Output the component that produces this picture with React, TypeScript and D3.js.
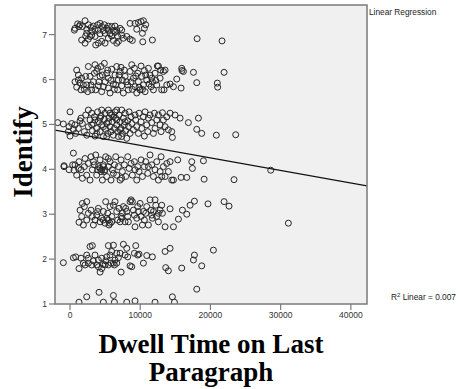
import React from "react";
import * as d3 from "d3";

// Dwell time on last paragraph (ms) vs. Identify rating (jittered), grouped by rating
const identify7: [number, number][] = [
  [620, 7.1], [1090, 7.24], [1280, 7.18], [2140, 7.31], [1760, 7.18], [2380, 7.12], [2610, 7.22], [2990, 7.16],
  [3330, 7.19], [3560, 7.12], [3940, 7.22], [4280, 7.25], [4510, 7.18], [4890, 7.22], [5230, 7.14], [5460, 7.19],
  [5940, 7.18], [6410, 7.19], [6650, 7.1], [7130, 7.14], [7360, 7.1], [8550, 7.25], [9260, 7.25], [9740, 7.27],
  [10120, 7.29], [10450, 7.31], [10780, 7.22], [10590, 7.14], [9500, 7.12], [10310, 7.03], [1660, 6.88], [2140, 6.81],
  [2850, 6.96], [3090, 6.99], [3660, 6.77], [4040, 6.81], [4510, 6.85], [4990, 6.81], [5460, 6.92], [5940, 6.97],
  [6180, 6.87], [6650, 6.81], [6890, 6.85], [7600, 6.92], [8080, 6.96], [8550, 6.9], [8880, 6.87], [10360, 6.84],
  [11730, 6.88], [3560, 6.96], [4280, 7.02], [4990, 7.03], [5700, 7.02], [6410, 7.05], [6790, 6.96], [7360, 6.99],
  [2230, 6.97], [2610, 6.9], [710, 7.14], [1430, 7.22], [4040, 7.1], [4750, 7.09], [5460, 7.1], [6180, 7.09],
  [3090, 7.07], [2380, 7.03], [18100, 6.91], [21650, 6.86],
];

const identify6: [number, number][] = [
  [950, 6.21], [1190, 6.1], [710, 5.95], [950, 5.83], [1430, 5.92], [1660, 6.03], [2040, 5.78], [2380, 5.88],
  [2610, 6.29], [2850, 6.07], [3090, 5.77], [3330, 5.95], [3800, 6.18], [3940, 6.25], [4040, 5.86], [4280, 6.07],
  [4510, 5.73], [4890, 6.36], [4990, 5.95], [5230, 6.14], [5460, 6.03], [5460, 5.81], [5700, 5.7], [5940, 6.23],
  [6180, 5.9], [6410, 6.1], [6650, 6.29], [6790, 5.77], [6890, 5.99], [7130, 6.18], [7270, 6.27], [7360, 5.86],
  [7600, 5.7], [7840, 6.07], [8080, 5.95], [8310, 5.77], [8550, 6.18], [8790, 6.33], [9030, 6.03], [9170, 6.25],
  [9260, 5.84], [9500, 5.7], [9640, 6.14], [9740, 5.95], [9980, 5.77], [10120, 6.3], [10210, 6.07], [10450, 5.88],
  [10590, 6.2], [10690, 5.73], [10930, 5.99], [11160, 6.25], [11400, 6.1], [11540, 5.84], [11730, 5.95], [11880, 5.77],
  [12110, 6.14], [12350, 5.88], [12590, 6.3], [12830, 6.03], [13060, 5.77], [13300, 6.18], [13540, 6.21], [13780, 5.88],
  [14250, 5.9], [14730, 5.84], [15200, 6.01], [15820, 5.81], [15910, 6.25], [16150, 6.18], [17580, 6.16], [18050, 5.93],
  [1190, 5.99], [1900, 5.88], [2230, 6.07], [2990, 5.88], [3470, 6.14], [3660, 5.77], [4130, 5.95], [4610, 6.1],
  [4750, 5.84], [5370, 6.21], [5840, 5.98], [6320, 5.78], [6510, 5.88], [6980, 6.1], [7460, 5.99], [7740, 6.21],
  [8220, 5.88], [8690, 5.95], [8880, 5.78], [9360, 6.08], [9830, 5.83], [10310, 5.78], [10780, 6.1], [11260, 5.9],
  [11640, 6.03], [12210, 5.98], [2520, 5.73], [1570, 5.77], [3560, 6.33], [4420, 6.29], [20980, 5.92], [21030, 5.83],
  [21940, 6.16], [15950, 6.2], [13390, 5.77], [12920, 6.21], [12440, 6.3],
];

const identify5: [number, number][] = [
  [-1760, 5.04], [-950, 5.01], [0, 5.28], [-140, 4.95], [-240, 4.84], [0, 4.74], [240, 5.02], [480, 4.89],
  [710, 4.99], [810, 4.8], [1190, 4.91], [1430, 5.08], [1570, 5.14], [1760, 5.02], [2040, 4.84], [2230, 5.21],
  [2380, 4.76], [2610, 5.32], [2610, 4.95], [2850, 5.1], [3090, 5.25], [3180, 4.86], [3330, 5.02], [3470, 5.17],
  [3560, 4.74], [3800, 4.91], [3940, 5.28], [4040, 5.06], [4280, 4.84], [4420, 5.19], [4510, 4.99], [4750, 4.73],
  [4890, 5.11], [4990, 5.25], [5080, 4.89], [5230, 5.02], [5370, 4.8], [5460, 5.32], [5560, 5.14], [5700, 4.95],
  [5840, 4.84], [5940, 5.21], [6030, 5.06], [6180, 4.76], [6320, 4.91], [6410, 5.28], [6510, 5.14], [6650, 4.99],
  [6790, 4.84], [6890, 4.73], [6980, 5.21], [7130, 5.06], [7270, 4.91], [7360, 5.32], [7460, 4.8], [7600, 5.14],
  [7740, 4.99], [7840, 5.25], [7930, 4.86], [8080, 4.69], [8220, 5.08], [8310, 4.95], [8410, 5.28], [8550, 4.8],
  [8690, 5.17], [8790, 5.02], [9030, 4.88], [9260, 5.21], [9360, 5.1], [9500, 4.95], [9740, 4.8], [9830, 5.25],
  [10120, 5.06], [10210, 4.91], [10450, 5.17], [10590, 4.74], [10690, 5.28], [10930, 4.99], [11070, 4.84], [11160, 5.14],
  [11400, 5.21], [11640, 5.04], [11880, 4.8], [12020, 5.25], [12110, 4.91], [12350, 5.1], [12590, 5.21], [12830, 4.99],
  [12970, 4.84], [13160, 5.26], [13300, 5.1], [13540, 4.95], [13780, 5.17], [14010, 4.88], [14250, 5.25], [14490, 4.84],
  [14580, 4.71], [14960, 5.21], [15680, 5.14], [16860, 5.04], [18290, 5.14], [18050, 4.89], [18760, 4.8], [20840, 4.76],
  [23600, 4.77], [3560, 5.1], [4280, 5.14], [4750, 4.95], [5460, 5.06], [6180, 5.17], [6650, 5.1], [7130, 4.88],
  [7840, 5.06], [5700, 5.25], [4510, 5.32], [3090, 4.99], [3800, 4.8], [7360, 4.73], [5230, 4.73], [6650, 5.32],
];

const identify4: [number, number][] = [
  [480, 4.36], [-860, 4.06], [-140, 3.99], [710, 4.1], [950, 3.87], [1280, 4.17], [1570, 3.99], [1760, 3.8],
  [2040, 4.06], [2380, 3.87], [2610, 4.13], [2850, 3.76], [2990, 4.28], [3180, 3.99], [3470, 4.1], [3660, 4.32],
  [3800, 3.87], [4040, 4.06], [4280, 4.21], [4420, 3.95], [4610, 3.76], [4750, 4.1], [4990, 3.99], [5080, 4.28],
  [5230, 3.84], [5460, 4.06], [5700, 4.17], [5840, 3.76], [6030, 3.99], [6320, 4.1], [6510, 4.28], [6650, 3.87],
  [6890, 4.06], [7130, 3.76], [7270, 4.21], [7460, 3.95], [7740, 4.1], [7930, 3.84], [8220, 4.28], [8410, 4.02],
  [8690, 4.13], [8880, 3.87], [9170, 4.17], [9500, 3.76], [9640, 4.06], [9830, 3.95], [10120, 4.21], [10310, 3.84],
  [10590, 4.06], [10780, 4.17], [11070, 3.91], [11400, 4.32], [11640, 4.1], [11880, 3.84], [12110, 3.99], [12350, 4.17],
  [12590, 3.76], [12830, 3.95], [12970, 4.28], [13300, 4.06], [13540, 3.84], [13780, 4.13], [14010, 3.95], [14250, 4.17],
  [14490, 3.76], [14730, 3.76], [15340, 4.21], [15820, 3.82], [16630, 3.82], [17340, 4.17], [17430, 4.02], [19000, 4.19],
  [19100, 3.78], [23360, 3.77], [28590, 3.98], [4280, 4.02], [4510, 3.99], [4750, 4.06], [3940, 3.99], [4890, 3.95],
  [3330, 4.17], [6180, 3.91], [5460, 4.24], [2140, 4.24], [1190, 4.02], [7360, 3.8], [9260, 3.99], [11160, 4.06],
  [13060, 3.84], [-850, 4.08], [380, 4.1], [570, 3.98],
];

const identify3: [number, number][] = [
  [1430, 3.09], [1760, 3.24], [2380, 3.28], [2040, 3.17], [2610, 3.02], [1660, 2.95], [1280, 2.82], [1900, 2.76],
  [2380, 2.87], [2990, 3.09], [3180, 2.95], [3330, 2.76], [3800, 2.98], [4040, 3.13], [4280, 2.83], [4510, 2.91],
  [4750, 2.87], [4990, 2.8], [5080, 3.28], [5370, 3.02], [5560, 2.76], [5700, 3.17], [5940, 2.95], [6180, 3.2],
  [6410, 3.28], [6650, 3.06], [6790, 2.87], [6980, 3.13], [7270, 2.95], [7460, 3.02], [7600, 3.17], [7840, 2.83],
  [8080, 3.06], [8220, 2.95], [8550, 3.28], [8690, 3.32], [8880, 3.28], [9030, 3.09], [9170, 2.98], [9260, 2.72],
  [9500, 2.91], [9740, 3.06], [9980, 3.24], [10120, 2.95], [10310, 2.76], [10590, 2.87], [10780, 3.02], [10930, 3.17],
  [11160, 2.76], [11400, 3.32], [11540, 3.09], [11730, 2.91], [11880, 3.06], [12110, 3.32], [12210, 3.2], [12350, 2.95],
  [12590, 2.83], [12830, 3.09], [13060, 3.2], [13160, 3.02], [13540, 2.72], [14250, 3.12], [14730, 2.72], [15440, 2.89],
  [16010, 3.09], [16630, 3.0], [17100, 3.2], [17720, 3.29], [5940, 2.83], [5460, 2.87], [5230, 2.91], [5700, 2.8],
  [4750, 3.06], [3560, 2.87], [3940, 3.06], [7360, 2.91], [8310, 2.83], [10450, 3.06], [11640, 2.98], [12590, 3.02],
  [9640, 3.17], [7930, 3.13], [7130, 2.83], [19650, 3.23], [21940, 3.28], [22650, 3.18], [31100, 2.8],
];

const identify2: [number, number][] = [
  [-950, 1.92], [480, 2.03], [810, 2.05], [1280, 1.79], [1570, 2.02], [1900, 1.91], [2140, 1.87], [2380, 2.09],
  [2610, 1.91], [2850, 2.28], [3180, 2.3], [3330, 1.96], [3560, 2.09], [3800, 1.87], [4040, 1.98], [4280, 1.71],
  [4510, 1.79], [4750, 1.88], [4990, 1.87], [5080, 1.96], [5460, 2.3], [5700, 2.09], [5840, 1.91], [5940, 2.17],
  [6180, 2.31], [6320, 1.87], [6410, 1.98], [6650, 2.13], [6890, 2.03], [7130, 2.13], [7270, 1.71], [7600, 2.33],
  [7840, 2.09], [8080, 2.24], [8220, 2.05], [8550, 1.85], [8790, 1.83], [9170, 2.13], [9360, 2.3], [9640, 2.09],
  [9830, 2.11], [10450, 1.91], [10930, 2.08], [11730, 2.05], [13540, 2.17], [13630, 1.81], [14010, 1.74], [14250, 2.24],
  [15910, 1.8], [17720, 2.09], [17580, 1.98], [18760, 1.85], [3090, 1.87], [2610, 2.02], [4510, 2.02], [5230, 2.05],
  [6180, 1.91], [6650, 1.91], [4040, 1.83], [5460, 1.87], [20420, 2.2],
];

const identify1: [number, number][] = [
  [1280, 1.04], [2380, 1.16], [4130, 1.26], [4750, 1.04], [6180, 1.19], [6320, 1.04], [8080, 1.04], [9260, 1.07],
  [12110, 1.04], [14580, 1.16], [14870, 1.04], [18050, 1.33],
];

const xTicks = [0, 10000, 20000, 30000, 40000];
const yTicks = [1, 2, 3, 4, 5, 6, 7];

// Fitted least-squares line Identify = intercept + slope * dwell
const fitIntercept = 4.815;
const fitSlope = -0.000028;
const rSquared = "0.007";

const xTitleLines = ["Dwell Time on Last", "Paragraph"];
const yTitle = "Identify";

const W = 459;
const H = 389;
const plot = { left: 55, right: 367, top: 5, bottom: 304 };

export default function App() {
  const x = d3.scaleLinear().domain([-2140, 42300]).range([plot.left, plot.right]);
  const y = d3.scaleLinear().domain([1, 7.66]).range([plot.bottom, plot.top]);

  const points = [
    ...identify7, ...identify6, ...identify5, ...identify4, ...identify3, ...identify2, ...identify1,
  ];

  const [x0, x1] = x.domain();
  const fitLine = d3.line<number>()
    .x((d) => x(d))
    .y((d) => y(fitIntercept + fitSlope * d));

  const sans = "'Liberation Sans', Arial, sans-serif";
  const serif = "'Liberation Serif', 'Times New Roman', serif";
  const frame = "#7a7a7a";

  return (
    <svg width={W} height={H} style={{ position: "absolute", left: 0, top: 0, background: "#fff" }}>
      <defs>
        <clipPath id="plot-area">
          <rect x={plot.left} y={plot.top} width={plot.right - plot.left} height={plot.bottom - plot.top} />
        </clipPath>
      </defs>
      <rect x={plot.left} y={plot.top} width={plot.right - plot.left} height={plot.bottom - plot.top} fill="#f0f0f0" />

      <g clipPath="url(#plot-area)">
        {points.map(([dx, dy], i) => (
          <circle key={i} cx={x(dx)} cy={y(dy)} r={3} fill="none" stroke="#262626" strokeWidth={1} />
        ))}
        <path d={fitLine([x0, x1]) ?? ""} fill="none" stroke="#111" strokeWidth={1.3} />
      </g>

      <rect x={plot.left} y={plot.top} width={plot.right - plot.left} height={plot.bottom - plot.top}
        fill="none" stroke={frame} strokeWidth={1.5} />

      {yTicks.map((t) => (
        <g key={`y${t}`}>
          <line x1={plot.left - 6} x2={plot.left} y1={y(t)} y2={y(t)} stroke={frame} strokeWidth={1.2} />
          <text x={plot.left - 8} y={y(t) + 3} textAnchor="end" fontFamily={sans} fontSize={8.5} fill="#333">{t}</text>
        </g>
      ))}
      {xTicks.map((t) => (
        <g key={`x${t}`}>
          <line x1={x(t)} x2={x(t)} y1={plot.bottom} y2={plot.bottom + 6} stroke={frame} strokeWidth={1.2} />
          <text x={x(t)} y={plot.bottom + 14} textAnchor="middle" fontFamily={sans} fontSize={8.5} fill="#333">{t}</text>
        </g>
      ))}

      <text x={369} y={15} fontFamily={sans} fontSize={8.3} fill="#222">Linear Regression</text>
      <text x={391} y={300} fontFamily={sans} fontSize={8.3} fill="#222">
        R<tspan dy={-3} fontSize={6}>2</tspan><tspan dy={3}> Linear = {rSquared}</tspan>
      </text>

      {xTitleLines.map((line, i) => (
        <text key={line} x={211} y={353 + i * 27.5} textAnchor="middle" fontFamily={serif} fontWeight="bold" fontSize={27} fill="#000">
          {line}
        </text>
      ))}
      <text transform={`translate(32, 152) rotate(-90)`} textAnchor="middle" fontFamily={serif} fontWeight="bold" fontSize={27} fill="#000">
        {yTitle}
      </text>
    </svg>
  );
}
